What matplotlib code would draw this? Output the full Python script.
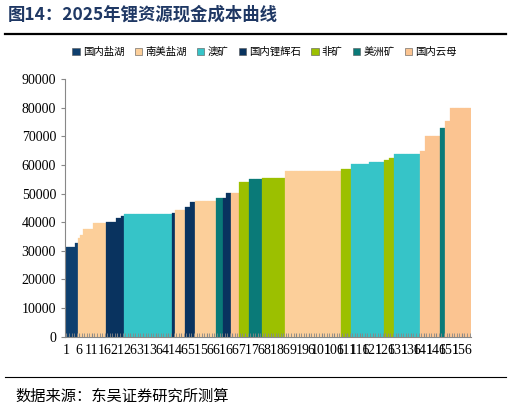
import numpy as np
import matplotlib
matplotlib.use("Agg")
from matplotlib import pyplot as plt
from matplotlib.patches import Patch

plt.rcParams['font.family'] = ['Liberation Serif', 'Noto Sans CJK SC']

# legend categories and colours
categories = ['国内盐湖', '南美盐湖', '澳矿', '国内锂辉石', '非矿', '美洲矿', '国内云母']
colors = {'国内盐湖': '#0e3f6e', '南美盐湖': '#fccf9a', '澳矿': '#36c4c8',
          '国内锂辉石': '#09335f', '非矿': '#9cc000', '美洲矿': '#0a7a78',
          '国内云母': '#fbc491'}

# runs of projects on the cost curve: category, cost (yuan/t), number of projects
seg_cat = ['国内盐湖', '国内盐湖', '南美盐湖', '南美盐湖', '南美盐湖', '南美盐湖',
           '国内锂辉石', '国内锂辉石', '国内锂辉石', '澳矿', '国内锂辉石', '南美盐湖',
           '国内锂辉石', '国内锂辉石', '南美盐湖', '美洲矿', '国内锂辉石', '国内锂辉石',
           '国内云母', '非矿', '美洲矿', '非矿', '南美盐湖', '非矿', '澳矿', '澳矿',
           '非矿', '非矿', '澳矿', '国内云母', '国内云母', '美洲矿', '国内云母', '国内云母']
seg_cost = [31200, 32800, 34500, 35500, 37500, 39800,
            40200, 41300, 42200, 42700, 43300, 44200,
            45200, 47000, 47500, 48300, 48300, 50300,
            50300, 54000, 55000, 55300, 58000, 58500, 60300, 61000,
            61600, 62300, 63800, 65000, 70200, 72800, 75500, 80000]
seg_count = [4, 1, 1, 1, 4, 5,
             4, 2, 1, 19, 1, 4,
             2, 2, 8, 3, 1, 2,
             3, 4, 5, 9, 22, 4, 7, 6,
             2, 2, 10, 2, 6, 2, 2, 8]

costs = np.repeat(seg_cost, seg_count)
bar_cats = np.repeat(seg_cat, seg_count)
n = len(costs)
x = np.arange(1, n + 1)

fig = plt.figure(figsize=(5.09, 4.12), dpi=100)
ax = fig.add_axes([0.128, 0.183, 0.797, 0.625])

ax.bar(x, costs, width=1.0, color=[colors[c] for c in bar_cats],
       edgecolor=[colors[c] for c in bar_cats], linewidth=0.2, align='center')

ax.set_xlim(0.5, n + 0.5)
ax.set_ylim(0, 90000)
ax.set_yticks(np.arange(0, 90001, 10000))
ax.set_xticks(np.arange(1, n + 1, 5))
ax.set_xticks(x, minor=True)
ax.tick_params(axis='x', which='both', direction='in', length=3, pad=5,
               labelsize=10, color='#888888')
ax.tick_params(axis='y', length=3, labelsize=10, color='#888888')
for s in ['top', 'right']:
    ax.spines[s].set_visible(False)
for s in ['left', 'bottom']:
    ax.spines[s].set_color('#888888')

handles = [Patch(facecolor=colors[c], edgecolor='#555555', linewidth=0.4) for c in categories]
fig.legend(handles, categories, loc='center', bbox_to_anchor=(0.52, 0.874), ncol=7,
           frameon=False, handlelength=0.7, handleheight=0.7,
           handletextpad=0.3, columnspacing=1.0, prop={'family': 'Noto Sans CJK SC', 'size': 7.5})

fig.text(0.015, 0.965, '图14：2025年锂资源现金成本曲线', fontsize=12.5, fontweight='bold',
         color='#1f3864', va='center', family=['Noto Sans CJK SC'])
fig.add_artist(plt.Line2D([0.01, 0.995], [0.918, 0.918], color='black', lw=1.6))
fig.add_artist(plt.Line2D([0.01, 0.995], [0.085, 0.085], color='black', lw=0.8))
fig.text(0.03, 0.038, '数据来源：东吴证券研究所测算', fontsize=11, color='black',
         va='center', family=['Noto Sans CJK SC'])

fig.savefig('out.png', dpi=100)
